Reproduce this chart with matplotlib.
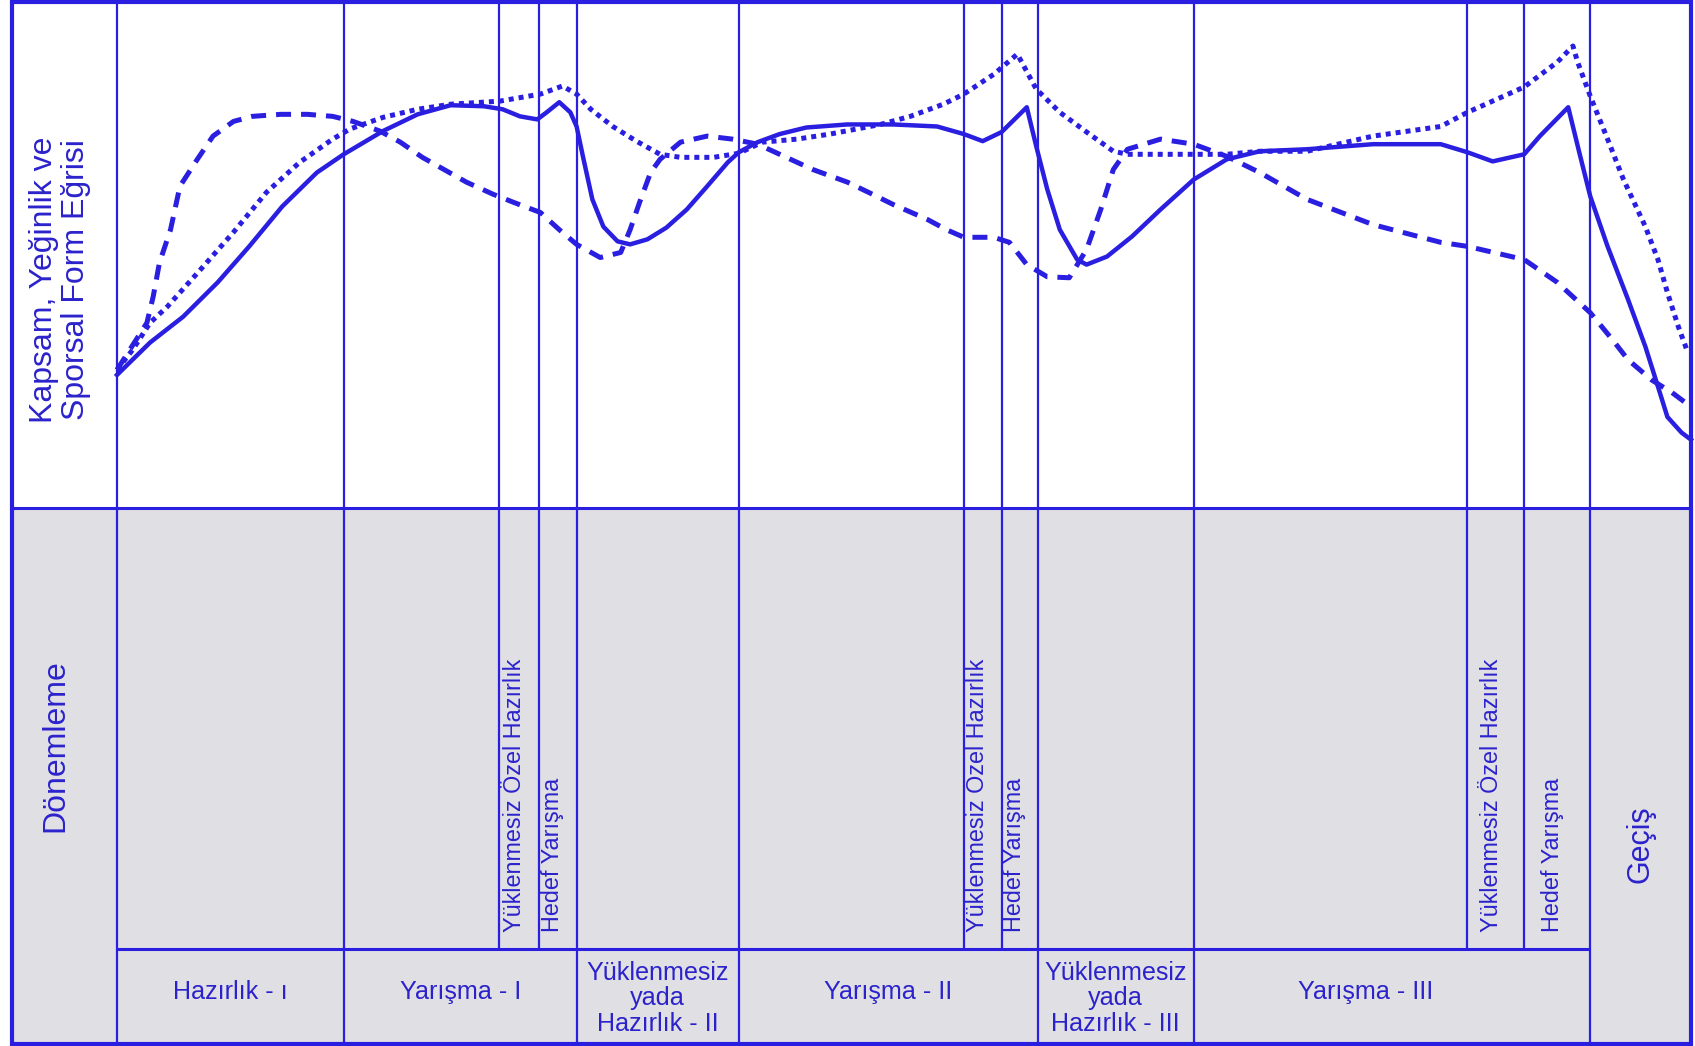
import matplotlib.pyplot as plt
from matplotlib import font_manager
from matplotlib.patches import Rectangle

BLUE = "#2a1ee0"
TEXT_BLUE = "#2b22cc"
GREY = "#dfdfe4"
REGULAR = ["Liberation Sans", "DejaVu Sans"]

# the scan uses a condensed face; use Liberation Sans Narrow when present,
# otherwise plain Liberation Sans a bit smaller so the lengths still match
_names = {f.name for f in font_manager.fontManager.ttflist}
if "Liberation Sans Narrow" in _names:
    NARROW, NSCALE = ["Liberation Sans Narrow", "DejaVu Sans"], 1.0
else:
    NARROW, NSCALE = REGULAR, 0.84

# time axis: 0 = season start, 100 = right edge of the chart
PHASE_EDGES = [0, 14.4, 29.2, 39.5, 58.5, 68.4, 93.6, 100]
PHASE_NAMES = [
    "Hazırlık - ı",
    "Yarışma - I",
    "Yüklenmesiz\nyada\nHazırlık - II",
    "Yarışma - II",
    "Yüklenmesiz\nyada\nHazırlık - III",
    "Yarışma - III",
    "Geçiş",
]
SUB_STARTS = [24.3, 26.8, 53.8, 56.2, 85.8, 89.4]
SUB_ENDS = [26.8, 29.2, 56.2, 58.5, 89.4, 93.6]
SUB_NAMES = ["Yüklenmesiz Özel Hazırlık", "Hedef Yarışma"] * 3

# Sporsal form (solid)
FORM_T = [0.0, 2.1, 4.2, 6.4, 8.4, 10.5, 12.7, 14.4, 16.9, 19.1, 21.2, 23.3,
          24.5, 25.6, 26.7, 27.3, 28.1, 28.8, 29.2, 29.6, 30.2, 30.9, 31.8,
          32.6, 33.7, 34.9, 36.2, 37.5, 38.8, 39.5, 40.7, 42.1, 43.8, 46.4,
          49.3, 52.1, 53.8, 55.0, 56.2, 57.8, 58.4, 59.1, 59.9, 61.0, 61.6,
          62.9, 64.5, 66.3, 68.4, 70.5, 72.6, 75.6, 79.8, 84.1, 85.8, 87.4,
          89.4, 90.4, 92.2, 92.9, 93.6, 94.7, 96.0, 97.1, 97.9, 98.5, 99.4,
          100.0]
FORM_V = [26.3, 32.7, 37.8, 44.6, 51.7, 59.6, 66.3, 69.9, 74.5, 77.8, 79.6,
          79.4, 78.8, 77.4, 76.8, 78.2, 80.2, 78.2, 75.4, 69.5, 61.0, 55.6,
          52.7, 52.1, 53.1, 55.4, 59.0, 63.6, 68.3, 70.3, 72.3, 73.9, 75.2,
          75.8, 75.8, 75.4, 73.9, 72.5, 74.3, 79.2, 71.5, 63.0, 55.0, 49.1,
          48.1, 49.7, 53.7, 59.0, 64.9, 68.9, 70.5, 70.9, 71.9, 71.9, 70.3,
          68.5, 69.9, 73.5, 79.2, 70.3, 61.6, 51.7, 41.2, 31.9, 24.0, 18.0,
          14.9, 13.5]

# Kapsam (dashed)
KAPSAM_T = [0.0, 1.9, 2.3, 2.7, 3.4, 4.0, 5.1, 6.1, 7.4, 8.6, 10.4, 12.1,
            13.7, 15.0, 16.7, 18.0, 19.4, 21.0, 22.2, 23.9, 25.2, 26.9, 28.1,
            29.2, 30.7, 32.0, 32.6, 33.2, 33.9, 34.5, 35.8, 37.5, 39.1, 40.7,
            42.1, 44.2, 46.4, 48.0, 49.3, 51.5, 52.7, 53.8, 55.7, 56.7, 57.8,
            59.1, 60.5, 61.6, 62.5, 63.3, 64.2, 66.3, 68.4, 70.5, 72.6, 75.6,
            79.8, 84.1, 85.8, 89.4, 91.5, 93.6, 95.0, 96.0, 97.5, 98.8, 100.0]
KAPSAM_V = [27.3, 36.6, 41.8, 48.5, 55.0, 63.6, 68.9, 73.5, 76.4, 77.4, 77.8,
            77.8, 77.4, 76.4, 74.5, 72.3, 69.3, 66.5, 64.4, 62.0, 60.4, 58.4,
            55.0, 52.1, 49.5, 50.5, 55.0, 60.4, 66.3, 68.9, 72.3, 73.5, 72.9,
            71.9, 69.9, 66.9, 64.4, 62.0, 60.0, 57.0, 55.0, 53.5, 53.5, 52.5,
            48.1, 45.7, 45.5, 51.1, 59.0, 66.9, 70.9, 72.9, 71.9, 69.5, 66.3,
            61.0, 56.0, 52.5, 51.7, 49.1, 44.6, 38.6, 33.3, 29.3, 25.3, 22.8,
            20.0]

# Yeğinlik (dotted)
YEGIN_T = [0.0, 1.0, 2.1, 3.2, 5.3, 7.4, 9.5, 11.6, 13.7, 14.8, 16.9, 19.1,
           21.2, 24.3, 26.9, 28.3, 29.2, 30.1, 31.5, 33.0, 34.5, 35.8, 37.9,
           39.5, 41.0, 43.2, 45.3, 48.5, 50.4, 52.5, 53.8, 55.7, 57.2, 58.4,
           59.9, 61.6, 63.3, 64.2, 68.4, 70.5, 72.6, 75.6, 79.8, 84.1, 85.8,
           89.4, 91.5, 92.5, 92.8, 93.6, 94.7, 95.7, 97.1, 97.9, 98.5, 99.2,
           99.8]
YEGIN_V = [27.3, 31.3, 36.6, 39.8, 47.1, 54.5, 62.4, 68.3, 72.9, 74.9, 77.2,
           78.8, 79.8, 80.4, 81.8, 83.4, 81.8, 78.8, 75.4, 72.5, 69.9, 69.3,
           69.3, 70.1, 72.3, 72.9, 73.9, 75.8, 77.4, 79.8, 81.8, 85.7, 89.7,
           82.8, 78.2, 74.3, 70.5, 69.9, 69.9, 69.9, 70.5, 70.5, 73.5, 75.4,
           78.2, 83.2, 88.1, 91.3, 88.1, 81.4, 72.9, 65.0, 55.6, 49.1, 42.6,
           35.8, 30.7]

# pixel layout of the frame
W, H = 1695, 1046
L_OUT, R_OUT, T_OUT, B_OUT = 12, 1691, 2, 1044
X0, Y_MID, Y_ROW = 117, 508, 949

fig = plt.figure(figsize=(W / 100, H / 100), dpi=100)

bg = fig.add_axes([0, 0, 1, 1])
bg.set_xlim(0, W)
bg.set_ylim(H, 0)
bg.axis("off")
bg.add_patch(Rectangle((L_OUT, Y_MID), R_OUT - L_OUT, B_OUT - Y_MID,
                       facecolor=GREY, edgecolor="none"))
bg.add_patch(Rectangle((L_OUT, T_OUT), R_OUT - L_OUT, B_OUT - T_OUT,
                       facecolor="none", edgecolor=BLUE, linewidth=3))
bg.plot([L_OUT, R_OUT], [Y_MID, Y_MID], color=BLUE, linewidth=2.2)
bg.text(60, 280, "Kapsam, Yeğinlik ve\nSporsal Form Eğrisi", rotation=90,
        ha="center", va="center", fontsize=23, color=TEXT_BLUE,
        family=REGULAR, linespacing=1.05)
bg.text(55, 746, "Dönemleme", rotation=90, ha="center", va="center",
        fontsize=23, color=TEXT_BLUE, family=REGULAR)

ax_top = fig.add_axes([X0 / W, 1 - Y_MID / H, (R_OUT - X0) / W,
                       (Y_MID - T_OUT) / H])
ax_bot = fig.add_axes([X0 / W, 1 - B_OUT / H, (R_OUT - X0) / W,
                       (B_OUT - Y_MID) / H], sharex=ax_top)
for ax in (ax_top, ax_bot):
    ax.set_xlim(0, 100)
    ax.axis("off")
    ax.patch.set_alpha(0)
ax_top.set_ylim(0, 100)
ax_bot.set_ylim(0, 1)
row_top = (B_OUT - Y_ROW) / (B_OUT - Y_MID)

# phase grid
for e in PHASE_EDGES[:-1]:
    ax_top.axvline(e, color=BLUE, linewidth=1.6, clip_on=False)
    ax_bot.axvline(e, color=BLUE, linewidth=1.6, clip_on=False)
for s in SUB_STARTS:
    ax_top.axvline(s, color=BLUE, linewidth=1.6)
    ax_bot.axvline(s, ymin=row_top, color=BLUE, linewidth=1.6)
ax_bot.hlines(row_top, PHASE_EDGES[0], PHASE_EDGES[-2], color=BLUE,
              linewidth=2.2)

# curves
ax_top.plot(KAPSAM_T, KAPSAM_V, color=BLUE, linewidth=3.6,
            dashes=(3.0, 2.0), dash_capstyle="butt", clip_on=False)
ax_top.plot(YEGIN_T, YEGIN_V, color=BLUE, linewidth=3.6,
            dashes=(1.0, 1.0), dash_capstyle="butt", clip_on=False)
ax_top.plot(FORM_T, FORM_V, color=BLUE, linewidth=3.2,
            solid_joinstyle="round", clip_on=False)

# phase labels (the last competition label sits a little left of centre)
nudge = {"Yarışma - III": -1.7}
for i, name in enumerate(PHASE_NAMES):
    xc = (PHASE_EDGES[i] + PHASE_EDGES[i + 1]) / 2 + nudge.get(name, 0)
    if name == "Geçiş":
        ax_bot.text(xc, (B_OUT - 844) / (B_OUT - Y_MID), name, rotation=90,
                    ha="center", va="center", fontsize=22, color=TEXT_BLUE,
                    family=REGULAR)
    elif "\n" in name:
        ax_bot.text(xc, row_top * 0.48, name, ha="center", va="center",
                    fontsize=21.5 * NSCALE, color=TEXT_BLUE, family=NARROW,
                    linespacing=1.1)
    else:
        ax_bot.text(xc, row_top * 0.55, name, ha="center", va="center",
                    fontsize=21.5 * NSCALE, color=TEXT_BLUE, family=NARROW)

for s, e, name in zip(SUB_STARTS, SUB_ENDS, SUB_NAMES):
    ax_bot.text((s + e) / 2 - 0.3, (B_OUT - 932) / (B_OUT - Y_MID), name,
                rotation=90, ha="center", va="bottom", fontsize=20 * NSCALE,
                color=TEXT_BLUE, family=NARROW)

fig.savefig("out.png", dpi=100)
